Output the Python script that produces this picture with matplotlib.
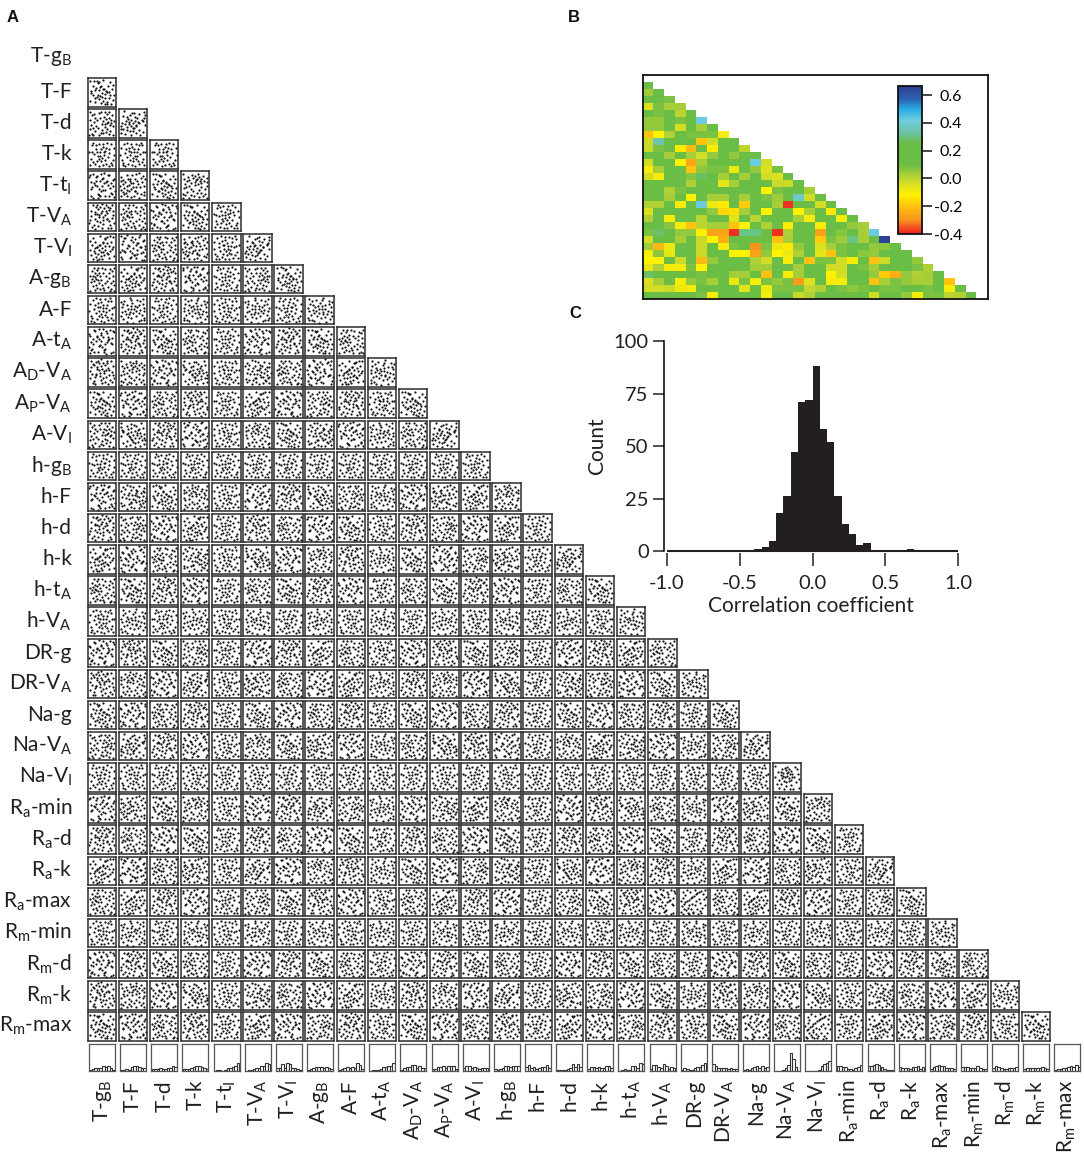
import matplotlib
matplotlib.use("Agg")
import matplotlib.pyplot as plt
from matplotlib.colors import LinearSegmentedColormap
import numpy as np

plt.rcParams['font.family'] = ['Lato', 'DejaVu Sans']
plt.rcParams['mathtext.default'] = 'regular'
plt.rcParams['mathtext.fontset'] = 'custom'
plt.rcParams['mathtext.rm'] = 'Lato'
plt.rcParams['axes.unicode_minus'] = False

W, H = 1084, 1153

# Parameter names, rows and columns of panel A
params = ["T-g$_B$", "T-F", "T-d", "T-k", "T-t$_I$", "T-V$_A$", "T-V$_I$", "A-g$_B$",
          "A-F", "A-t$_A$", "A$_D$-V$_A$", "A$_P$-V$_A$", "A-V$_I$", "h-g$_B$", "h-F", "h-d",
          "h-k", "h-t$_A$", "h-V$_A$", "DR-g", "DR-V$_A$", "Na-g", "Na-V$_A$", "Na-V$_I$",
          "R$_a$-min", "R$_a$-d", "R$_a$-k", "R$_a$-max", "R$_m$-min", "R$_m$-d", "R$_m$-k", "R$_m$-max"]

# Panel A: the dots are too small to read one by one in all 496 panels.
# These clouds are rough readings of a few panels, and the grid below reuses them,
# so most panels show the right look, not their own true points.
cloud1_x = [.24,.33,.29,.40,.36,.49,.44,.55,.52,.63,.58,.68,.31,.44,.48,.59,.35,.41,.66,.72,.12,.15,.20,.70,.75,.82,.88,.90,.08,.25,.66,.78,.85,.18,.28,.62,.72,.93,.10,.22,.46,.50,.56,.30,.74,.86,.14]
cloud1_y = [.75,.62,.86,.58,.92,.72,.50,.84,.64,.78,.48,.90,.44,.38,.96,.56,.70,.82,.60,.66,.70,.45,.80,.85,.60,.90,.72,.40,.30,.35,.35,.22,.15,.12,.10,.18,.08,.30,.55,.20,.25,.12,.32,.42,.42,.52,.90]
cloud2_x = [.12,.18,.22,.26,.30,.33,.37,.40,.44,.47,.50,.53,.56,.60,.63,.67,.70,.74,.78,.82,.86,.35,.42,.48,.55,.62,.28,.58,.72,.15,.20,.08,.25,.80,.90,.92,.68,.52,.40,.75,.10,.60,.88,.45,.32]
cloud2_y = [.24,.10,.41,.31,.17,.52,.29,.44,.62,.21,.49,.71,.37,.58,.83,.33,.66,.57,.91,.72,.47,.55,.60,.35,.68,.42,.72,.25,.30,.60,.85,.42,.50,.40,.90,.20,.88,.12,.10,.15,.75,.85,.55,.92,.08]
cloud3_x = [.08,.10,.15,.22,.24,.08,.16,.28,.12,.20,.55,.58,.62,.65,.68,.72,.75,.78,.82,.85,.60,.70,.80,.88,.66,.74,.56,.90,.63,.76,.40,.44,.48,.38,.50,.46,.34,.52,.42,.30,.92,.84,.69,.06,.18,.26]
cloud3_y = [.90,.62,.78,.84,.55,.30,.14,.22,.45,.08,.60,.72,.48,.66,.82,.56,.70,.44,.62,.78,.36,.30,.25,.40,.20,.12,.15,.08,.90,.90,.85,.70,.90,.35,.28,.18,.62,.48,.10,.42,.60,.50,.52,.08,.35,.70]
cloud4_x = [.08,.11,.19,.23,.29,.31,.38,.41,.47,.52,.55,.61,.64,.69,.73,.83,.87,.93,.14,.26,.34,.44,.49,.58,.67,.76,.79,.90,.06,.17,.36,.43,.53,.60,.71,.85,.24,.39,.56,.81,.47,.66]
cloud4_y = [.72,.30,.86,.55,.40,.92,.62,.48,.78,.26,.58,.88,.44,.70,.16,.82,.36,.60,.12,.68,.18,.88,.38,.10,.28,.52,.92,.14,.48,.22,.74,.60,.68,.34,.84,.58,.10,.30,.46,.24,.12,.58]
cloud5_x = [.06,.09,.14,.17,.21,.31,.35,.37,.44,.52,.54,.59,.61,.73,.77,.79,.90,.94,.24,.27,.41,.43,.66,.68,.84,.86,.11,.49,.56,.33,.71,.96,.19,.29,.63,.81,.46,.39,.88,.76,.13,.58,.36,.51,.92]
cloud5_y = [.82,.88,.40,.44,.91,.79,.85,.22,.66,.74,.78,.60,.34,.86,.89,.42,.70,.75,.58,.54,.18,.13,.64,.68,.24,.20,.12,.30,.36,.48,.52,.30,.08,.66,.12,.58,.92,.40,.48,.14,.62,.94,.05,.50,.10]
line_x = [.10,.16,.22,.28,.34,.40,.46,.52,.58,.64,.70,.76,.08,.14,.24,.32,.42,.54,.62,.74,.86,.92,.12,.20,.30,.38,.48,.60,.72,.84,.90,.18,.36,.50,.66,.80,.06,.26,.44,.56,.78,.94,.15,.34,.68]
line_y = [.36,.42,.48,.53,.58,.63,.68,.72,.76,.80,.84,.88,.14,.62,.20,.30,.24,.40,.26,.46,.60,.40,.08,.74,.12,.86,.10,.52,.18,.76,.90,.26,.08,.16,.06,.28,.52,.92,.44,.92,.10,.66,.84,.38,.60]
ring_x = [.34,.42,.50,.58,.64,.68,.68,.63,.56,.48,.40,.33,.29,.29,.38,.46,.54,.60,.50,.44,.56,.36,.10,.18,.80,.88,.14,.82,.92,.24,.72,.48,.60,.40,.08,.22,.76,.52,.30,.66,.94,.86]
ring_y = [.78,.84,.86,.80,.72,.62,.52,.42,.36,.34,.38,.46,.58,.68,.66,.74,.70,.60,.56,.50,.48,.56,.90,.70,.86,.62,.28,.34,.14,.14,.10,.18,.08,.08,.52,.40,.52,.66,.26,.24,.44,.80]
clouds = [(cloud1_x, cloud1_y), (cloud2_x, cloud2_y), (cloud3_x, cloud3_y),
          (cloud4_x, cloud4_y), (cloud5_x, cloud5_y)]

# Bottom row of panel A, bar heights per column
hist_rows = [
    [1,2,3,3,3,5,4,5,3,1], [1,1,2,1,4,5,5,4,3,3], [2,2,2,3,2,2,3,3,5,4], [2,2,2,3,4,5,5,4,3,2],
    [0,1,1,0,1,3,3,4,5,9], [0,1,1,2,3,3,5,5,9,7], [3,3,7,3,9,7,3,3,2,1], [1,2,3,4,4,4,3,4,3,2],
    [1,2,3,4,3,4,3,8,6,2], [0,1,1,1,2,4,4,5,5,8], [1,3,4,4,6,6,3,5,3,3], [2,2,4,4,5,3,5,5,5,2],
    [3,5,5,3,4,3,2,3,3,3], [2,1,2,3,5,5,4,5,5,5], [4,6,3,4,2,3,4,4,6,3], [1,1,1,1,2,3,7,4,7,4],
    [2,4,4,3,4,3,3,5,5,3], [0,1,2,1,1,5,5,3,8,7], [2,6,6,4,3,7,5,2,4,3], [1,3,2,1,1,3,4,4,6,9],
    [7,5,3,3,3,3,2,3,2,2], [1,2,1,3,4,5,3,5,3,4], [0,0,0,1,3,6,19,13,4,0], [0,0,0,0,0,1,5,7,9,11],
    [5,5,4,4,2,2,1,3,4,6], [5,5,6,7,6,4,2,1,1,1], [4,3,3,3,2,4,4,5,2,4], [2,4,5,6,5,5,3,3,3,2],
    [4,4,4,3,3,3,5,3,2,2], [3,5,4,3,2,2,3,3,3,4], [2,3,3,3,3,3,3,4,3,2], [1,2,2,3,3,4,5,4,6,4],
]

# Panel B, correlation per cell, one list per row of the triangle
corr_rows = [
    [.12],
    [.04,.13],
    [.15,.14,.08],
    [-.05,.08,.03,.03],
    [.15,.08,.14,.0,.1],
    [.05,.05,.13,.08,.15,.42],
    [.05,.05,.1,-.03,.14,.03,.14],
    [-.2,-.12,.02,.14,.08,.08,.08,-.1],
    [-.02,.34,.14,.14,.12,-.2,-.03,.15,.15],
    [-.02,.08,.14,-.13,-.22,.14,-.13,.14,.14,0],
    [.14,.1,.03,.12,.03,-.03,.05,.14,.05,.12,.14],
    [-.03,.14,.14,-.12,-.26,.03,.14,.14,.14,.1,.42,-.03],
    [-.1,.03,.14,.1,-.2,.06,.08,.08,-.08,.14,.05,-.05,.08],
    [-.03,-.1,.12,.13,.07,.27,.14,.03,.1,.03,.14,-.03,-.05,.12],
    [.14,.14,.14,.13,.02,.14,.14,-.07,.03,.14,.14,.14,-.02,-.02,.1],
    [.13,.12,.02,.08,.14,.14,.1,.1,.14,.14,.14,-.12,.08,.13,.14,.03],
    [.14,.14,.03,.1,-.12,.14,.03,.03,.1,.03,.14,.08,.04,.14,.38,-.03,.14],
    [.02,.02,.14,-.1,.14,.42,-.08,-.13,.14,-.18,.1,.14,.03,-.38,.14,.14,-.03,.14],
    [-.05,.14,.14,.1,.14,.1,.05,-.17,-.15,.03,.14,-.12,.1,.14,-.12,.03,.14,-.13,.1],
    [.02,.14,-.1,.14,.14,.0,.12,.1,-.06,.14,.0,.14,.14,.14,.03,-.1,.14,.14,-.1,.14],
    [.14,.14,.07,-.1,-.2,.0,.03,.03,-.2,-.12,.14,.02,.14,-.13,.14,.14,-.1,.14,.14,.05,.03],
    [.08,.28,.14,.05,.05,-.12,-.27,-.26,-.38,.3,.3,.14,-.38,.02,.14,.22,-.27,.14,.07,.14,.03,.42],
    [-.03,.12,.12,.03,.12,-.02,-.12,-.24,.14,.14,.14,.14,-.2,.03,.14,.14,-.18,.08,.04,.3,.03,.14,.65],
    [.04,-.22,-.08,.14,.14,-.02,.14,-.1,.08,.14,-.3,.08,-.08,-.13,.05,.14,-.05,.03,.08,.14,.1,.05,.06,.14],
    [-.1,.06,-.07,.14,.24,-.02,.14,.1,-.12,-.12,-.27,.05,-.12,-.08,.02,.14,-.07,-.2,.08,.1,.06,.05,.1,.1,.12],
    [-.12,-.12,.1,-.02,.1,-.22,.05,.14,.2,.1,.02,-.03,.14,-.1,.14,-.2,.08,.08,-.03,-.1,.14,-.2,-.02,.14,.14,.05],
    [-.07,.02,-.1,-.1,.08,-.12,.14,.14,.14,.14,.03,.03,.14,.14,.03,.14,.14,-.03,-.03,.23,.08,.03,.14,.14,.14,.08,.02],
    [.28,.14,.14,.14,.14,.08,.14,.14,.03,.03,.14,-.2,.14,-.1,.03,.14,.14,-.12,-.03,.14,.14,.05,-.18,-.24,.05,.02,.03,.14],
    [-.05,.03,.1,-.1,.05,.08,.03,.1,-.08,.08,-.1,.08,.05,.08,-.28,-.05,.14,-.1,-.1,.14,.14,-.2,.03,.08,.05,.03,.03,.14,-.2],
    [-.03,-.03,-.02,-.08,-.1,.14,.14,.1,.14,-.06,.1,-.08,.08,.08,.08,-.01,.02,.1,.08,.06,.08,.14,.08,.08,.14,.14,.08,.1,-.1,.12],
    [.14,.14,.14,.1,.12,.08,-.1,.12,.14,.14,.14,-.1,.14,.14,-.02,.02,.14,.14,.1,.14,.1,-.03,.14,.14,.05,-.1,.08,.08,.0,.02,.12],
]
cbar_ticks = [-0.4, -0.2, 0.0, 0.2, 0.4, 0.6]

# Panel C, counts per 0.05 bin from -1.0 to 1.0
corr_counts = [0,0,0,0,0,0,0,0,0,0,0,0,1,2,5,18,26,47,71,72,88,58,52,26,13,8,3,4,.5,0,0,0,0,1,0,0,0,0,0,0]
c_xticks = [-1.0, -0.5, 0.0, 0.5, 1.0]
c_yticks = [0, 25, 50, 75, 100]


def px_axes(left, top, right, bottom):
    # axes placed by reference pixels
    return fig.add_axes([left / W, 1 - bottom / H, (right - left) / W, (bottom - top) / H])


fig = plt.figure(figsize=(W / 100, H / 100), dpi=100)

# Panel A
x0, y0, pitch = 87.5, 78, 31.14
n = len(params)
for r in range(1, n):
    y = y0 + (r - 1) * pitch
    fig.text(72 / W, 1 - (y + 14) / H, params[r], fontsize=15, ha='right', va='center', color='#231f20')
    for c in range(r):
        ax = px_axes(x0 + c * pitch, y, x0 + c * pitch + 28.5, y + 28.5)
        cx, cy = clouds[(r * c + r + 2 * c) % len(clouds)]
        if r == 23 and c == 22:
            cx, cy = ring_x, ring_y
        elif (r == 31 and c == 23) or (r == 27 and c == 19):
            cx, cy = line_x, line_y
        else:
            turn = (2 * r + 3 * c + r * c) % 4
            if turn == 1:
                cx, cy = cy, cx
            elif turn == 2:
                cx = [1 - v for v in cx]
            elif turn == 3:
                cx, cy = [1 - v for v in cy], cx
        ax.scatter(cx, cy, s=2.5, c='#111111', linewidths=0)
        ax.set_xlim(0, 1)
        ax.set_ylim(0, 1)
        ax.set_xticks([])
        ax.set_yticks([])
        for sp in ax.spines.values():
            sp.set_linewidth(1.1)
            sp.set_color('#2b2b2b')

fig.text(72 / W, 1 - 57 / H, params[0], fontsize=15, ha='right', va='center', color='#231f20')

hist_top = y0 + (n - 1) * pitch + 0.5
for c in range(n):
    ax = px_axes(x0 + 1.5 + c * pitch, hist_top, x0 + 27.5 + c * pitch, hist_top + 27.5)
    ax.bar(range(10), hist_rows[c], width=1, facecolor='white', edgecolor='#333333', linewidth=0.8)
    ax.set_xlim(-0.6, 9.6)
    ax.set_ylim(0, 28)
    ax.set_xticks([])
    ax.set_yticks([])
    for sp in ax.spines.values():
        sp.set_linewidth(0.9)
        sp.set_color('#555555')
    fig.text((x0 + 14.5 + c * pitch) / W, 1 - 1080 / H, params[c], fontsize=15, rotation=90,
             ha='center', va='top', color='#231f20')

# Panel B
colors = [(-.4, '#ed1c24'), (-.3, '#f7941d'), (-.2, '#ffc20e'), (-.12, '#fff200'), (-.04, '#d7df23'),
          (.03, '#a6ce39'), (.1, '#6abd45'), (.25, '#6abd45'), (.33, '#6cc4a4'), (.42, '#6dcde0'),
          (.5, '#29abe2'), (.57, '#2b63b0'), (.665, '#2e3f92')]
vmin, vmax = -.4, .665
cmap = LinearSegmentedColormap.from_list('corr', [((v - vmin) / (vmax - vmin), col) for v, col in colors])

grid = np.full((31, 31), np.nan)
for i, row in enumerate(corr_rows):
    grid[i, :len(row)] = row

ax = px_axes(642.5, 75, 988, 298.5)
mesh = ax.pcolormesh(np.arange(32), np.arange(32), np.ma.masked_invalid(grid), cmap=cmap, vmin=vmin, vmax=vmax)
ax.set_xlim(0, 345.5 / 10.77)
ax.set_ylim(31, -1)
ax.set_xticks([])
ax.set_yticks([])
for sp in ax.spines.values():
    sp.set_linewidth(1.3)
    sp.set_color('#111111')

cax = px_axes(898, 86, 922, 234)
cb = fig.colorbar(mesh, cax=cax, ticks=cbar_ticks)
cb.outline.set_linewidth(1.3)
cb.outline.set_edgecolor('#111111')
cb.set_ticklabels(['-0.4', '-0.2', '0.0', '0.2', '0.4', '0.6'])
cax.tick_params(length=7, width=1.1, labelsize=11.5, pad=22, color='#111111')
for lab in cax.get_yticklabels():
    lab.set_ha('right')

# Panel C
edges = np.linspace(-1, 1, 41)
ax = px_axes(664, 341, 958, 551)
ax.bar(edges[:-1], corr_counts, width=0.05, align='edge', color='#231f20', linewidth=0)
ax.plot([-1, 1], [0, 0], color='#231f20', lw=1.5, clip_on=False, solid_capstyle='butt')
ax.set_xlim(-1 - 3 / 145.5, 1)
ax.set_ylim(0, 100)
ax.spines['top'].set_visible(False)
ax.spines['right'].set_visible(False)
ax.spines['bottom'].set_visible(False)
ax.spines['bottom'].set_position(('outward', 1.5))
ax.spines['left'].set_linewidth(1.1)
ax.set_xticks(c_xticks)
ax.set_xticklabels(['-1.0', '-0.5', '0.0', '0.5', '1.0'])
ax.set_yticks(c_yticks)
ax.tick_params(axis='x', length=9, width=1.1, labelsize=14.5, pad=7, colors='#231f20')
ax.tick_params(axis='y', length=8, width=1.1, labelsize=14.5, pad=3, colors='#231f20')
ax.set_xlabel('Correlation coefficient', fontsize=15, labelpad=3, color='#231f20')
ax.set_ylabel('Count', fontsize=15, labelpad=5, color='#231f20')

for letter, lx, ly in [('A', 7, 18), ('B', 568, 18), ('C', 569, 314)]:
    fig.text(lx / W, 1 - ly / H, letter, fontsize=12, fontweight='bold', family='Liberation Sans',
             ha='left', va='center', color='#111111')

fig.savefig('out.png', dpi=100)
